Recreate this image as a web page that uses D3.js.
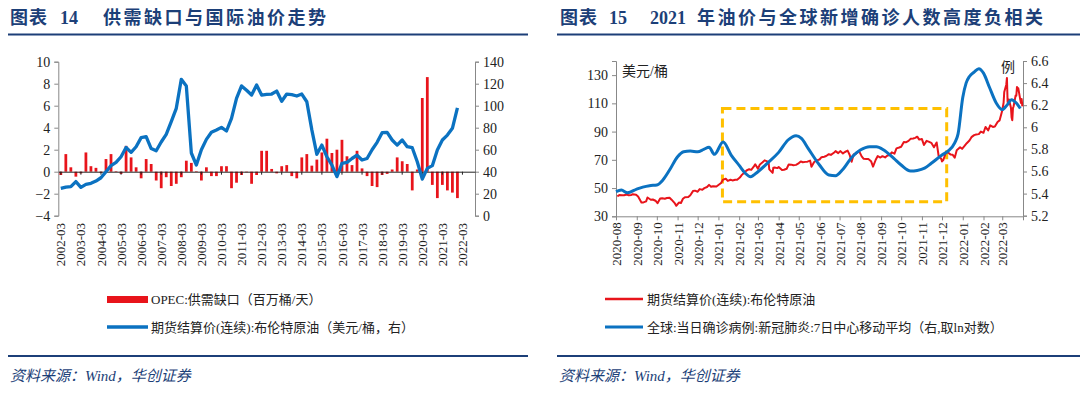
<!DOCTYPE html>
<html>
<head>
<meta charset="utf-8">
<script src="https://cdn.jsdelivr.net/npm/d3@7"></script>
<style>
  body { margin: 0; background: #fff; }
  svg text { font-family: "Liberation Serif", "Noto Sans CJK SC", serif; fill: #222; }
</style>
</head>
<body>
<svg id="chart" width="1080" height="394"></svg>
<script>
// ---------- 图表14 data (quarterly) ----------
const quarters = [];
for (let y = 2002; y <= 2022; y++) ["03", "06", "09", "12"].forEach(m => quarters.push(y + "-" + m));
quarters.splice(83); // axis runs to 2022-09

const yearLabels = ["2002-03","2003-03","2004-03","2005-03","2006-03","2007-03","2008-03",
  "2009-03","2010-03","2011-03","2012-03","2013-03","2014-03","2015-03","2016-03","2017-03",
  "2018-03","2019-03","2020-03","2021-03","2022-03"];

// OPEC supply gap, million bbl/day
const opecGap = [-0.3,1.6,0.4,-0.45,-0.15,1.75,0.5,0.35,-0.1,1.15,1.6,0.05,-0.2,2.35,1.3,0.4,
  -0.6,1.15,0.7,-0.8,-1.5,-0.5,-1.3,-1.1,-0.5,1.0,0.8,0.05,-0.8,0.4,-0.4,-0.4,0.5,0.5,-1.5,-1.0,
  -0.3,-0.05,-1.1,-0.3,1.9,1.9,0.25,-0.15,0.5,0.6,-0.4,-0.6,1.3,1.6,0.55,1.1,1.75,3.0,1.7,2.0,
  2.9,1.4,0.6,1.9,0.3,-0.4,-1.3,-1.4,-0.3,-0.2,0.2,1.3,0.95,0.7,-1.7,0.2,6.7,8.6,-1.2,-2.4,
  -1.2,-1.7,-1.9,-2.4];

// Brent settlement, USD/bbl (right axis)
const brentQ = [24.8,26,26.4,31,25.8,28.5,29.4,31.5,34.5,40,45.5,48.5,53.6,62,57.6,62.7,71,71.8,
  61,59,67,74,85.5,97.6,124,118,57,46,60,69.4,75.8,77.9,80.3,77,88.5,106.7,118,114,109.7,118.8,
  109.7,110.3,110.6,113.3,104,110.6,110,108.8,110.6,103.6,78,55.8,64.2,53.6,46,35.5,47.6,48.5,
  52,55,50.6,52,60,66.7,75.5,75.8,68.8,64.2,68.8,62.7,61.8,49,33.3,43,45.5,59.7,68.8,73.3,79.4,98];

// ---------- 图表15 data (daily / sampled) ----------
const monthLabels = ["2020-08","2020-09","2020-10","2020-11","2020-12","2021-01","2021-02",
  "2021-03","2021-04","2021-05","2021-06","2021-07","2021-08","2021-09","2021-10","2021-11",
  "2021-12","2022-01","2022-02","2022-03"];

const brentDaily = [
  ["2020-08-03",44.15],["2020-08-06",45.09],["2020-08-10",44.99],["2020-08-13",44.96],["2020-08-17",45.37],
  ["2020-08-20",44.9],["2020-08-24",45.13],["2020-08-26",45.64],["2020-08-31",45.28],["2020-09-03",44.07],
  ["2020-09-08",39.78],["2020-09-11",39.83],["2020-09-15",40.53],["2020-09-17",43.3],["2020-09-22",41.72],
  ["2020-09-25",41.92],["2020-09-29",41.03],["2020-10-02",39.27],["2020-10-06",42.65],["2020-10-09",42.85],
  ["2020-10-13",42.45],["2020-10-16",42.93],["2020-10-20",43.16],["2020-10-23",41.77],["2020-10-28",39.12],
  ["2020-10-30",37.46],["2020-11-03",39.71],["2020-11-06",39.45],["2020-11-09",42.4],["2020-11-12",43.53],
  ["2020-11-17",43.75],["2020-11-20",44.96],["2020-11-24",47.86],["2020-11-27",48.18],["2020-12-01",47.42],
  ["2020-12-04",49.25],["2020-12-08",48.84],["2020-12-11",49.97],["2020-12-15",50.76],["2020-12-18",52.26],
  ["2020-12-21",50.91],["2020-12-24",51.29],["2020-12-29",51.09],["2020-12-31",51.8],["2021-01-05",53.6],
  ["2021-01-08",55.99],["2021-01-12",56.58],["2021-01-15",55.1],["2021-01-19",55.9],["2021-01-22",55.41],
  ["2021-01-26",55.91],["2021-01-29",55.88],["2021-02-02",57.46],["2021-02-05",59.34],["2021-02-09",61.09],
  ["2021-02-12",62.43],["2021-02-16",63.35],["2021-02-19",62.91],["2021-02-23",65.37],["2021-02-25",66.88],
  ["2021-03-01",63.69],["2021-03-04",66.74],["2021-03-08",68.24],["2021-03-11",69.63],["2021-03-15",68.88],
  ["2021-03-17",68.0],["2021-03-18",63.28],["2021-03-23",60.79],["2021-03-24",64.41],["2021-03-26",64.57],
  ["2021-03-30",64.14],["2021-04-01",64.86],["2021-04-06",62.74],["2021-04-09",62.95],["2021-04-13",63.67],
  ["2021-04-16",66.77],["2021-04-20",66.57],["2021-04-23",66.11],["2021-04-27",66.42],["2021-04-30",67.25],
  ["2021-05-04",68.88],["2021-05-07",68.28],["2021-05-11",68.55],["2021-05-14",68.71],["2021-05-18",69.46],
  ["2021-05-20",65.11],["2021-05-24",68.46],["2021-05-28",69.63],["2021-06-01",70.25],["2021-06-04",71.89],
  ["2021-06-08",72.22],["2021-06-11",72.69],["2021-06-15",73.99],["2021-06-18",73.51],["2021-06-23",75.19],
  ["2021-06-25",76.18],["2021-06-29",74.76],["2021-07-02",76.17],["2021-07-06",74.53],["2021-07-09",75.55],
  ["2021-07-13",76.49],["2021-07-16",73.59],["2021-07-19",68.62],["2021-07-22",73.79],["2021-07-26",74.5],
  ["2021-07-30",76.33],["2021-08-03",72.41],["2021-08-06",70.7],["2021-08-10",70.63],["2021-08-13",70.59],
  ["2021-08-17",69.03],["2021-08-20",65.18],["2021-08-24",70.05],["2021-08-27",72.7],["2021-08-31",71.63],
  ["2021-09-03",72.61],["2021-09-07",71.69],["2021-09-10",72.92],["2021-09-14",73.6],["2021-09-17",75.34],
  ["2021-09-21",74.36],["2021-09-24",78.09],["2021-09-28",78.72],["2021-10-01",79.28],["2021-10-05",82.56],
  ["2021-10-08",82.39],["2021-10-12",83.42],["2021-10-15",84.86],["2021-10-19",85.08],["2021-10-22",85.53],
  ["2021-10-25",86.4],["2021-10-28",84.32],["2021-11-01",84.71],["2021-11-04",80.54],["2021-11-08",83.43],
  ["2021-11-11",82.87],["2021-11-15",82.05],["2021-11-19",78.89],["2021-11-23",82.31],["2021-11-26",72.72],
  ["2021-11-30",70.57],["2021-12-01",68.87],["2021-12-03",69.88],["2021-12-07",75.44],["2021-12-10",75.15],
  ["2021-12-14",73.7],["2021-12-17",73.52],["2021-12-20",71.52],["2021-12-23",76.85],["2021-12-28",78.94],
  ["2021-12-31",77.78],["2022-01-04",80.0],["2022-01-07",81.75],["2022-01-11",83.72],["2022-01-14",86.06],
  ["2022-01-18",87.51],["2022-01-21",87.89],["2022-01-25",88.2],["2022-01-28",90.03],["2022-02-01",89.16],
  ["2022-02-04",93.27],["2022-02-08",90.78],["2022-02-11",94.44],["2022-02-15",93.28],["2022-02-18",93.54],
  ["2022-02-22",96.84],["2022-02-25",97.93],["2022-03-01",104.97],["2022-03-03",110.46],["2022-03-04",118.11],
  ["2022-03-07",123.21],["2022-03-08",127.98],["2022-03-09",111.14],["2022-03-10",109.33],["2022-03-11",112.67],
  ["2022-03-14",106.9],["2022-03-15",99.91],["2022-03-16",98.02],["2022-03-17",106.64],["2022-03-18",107.93],
  ["2022-03-21",115.62],["2022-03-22",115.48],["2022-03-23",121.6],["2022-03-24",119.03],["2022-03-25",120.65],
  ["2022-03-28",112.48],["2022-03-29",110.23],["2022-03-30",113.03],["2022-03-31",107.91]
];

// global new cases, 7-day centred MA, log scale (right axis)
const casesLog = [
  ["2020-08-01",5.417],["2020-08-09",5.432],["2020-08-18",5.408],["2020-09-01",5.441],["2020-09-10",5.459],
  ["2020-09-20",5.472],["2020-10-01",5.478],["2020-10-10",5.523],["2020-10-20",5.613],["2020-11-01",5.734],
  ["2020-11-10",5.779],["2020-11-20",5.785],["2020-12-01",5.779],["2020-12-10",5.8],["2020-12-18",5.82],
  ["2020-12-26",5.755],["2021-01-08",5.866],["2021-01-20",5.749],["2021-02-01",5.655],["2021-02-10",5.585],
  ["2021-02-18",5.553],["2021-03-01",5.598],["2021-03-15",5.674],["2021-04-01",5.773],["2021-04-15",5.885],
  ["2021-04-27",5.924],["2021-05-05",5.9],["2021-05-15",5.81],["2021-06-01",5.659],["2021-06-15",5.568],
  ["2021-06-25",5.562],["2021-07-05",5.613],["2021-07-20",5.734],["2021-08-01",5.794],["2021-08-15",5.825],
  ["2021-08-25",5.825],["2021-09-05",5.794],["2021-09-20",5.719],["2021-10-01",5.659],["2021-10-15",5.605],
  ["2021-10-25",5.61],["2021-11-05",5.63],["2021-11-15",5.674],["2021-12-01",5.749],["2021-12-10",5.785],
  ["2021-12-20",5.86],["2021-12-25",5.94],["2022-01-01",6.27],["2022-01-06",6.4],["2022-01-11",6.46],
  ["2022-01-18",6.5],["2022-01-25",6.53],["2022-02-01",6.49],["2022-02-10",6.36],["2022-02-20",6.22],
  ["2022-03-01",6.16],["2022-03-08",6.2],["2022-03-15",6.25],["2022-03-22",6.22],["2022-03-28",6.17]
];

// highlighted window (dates, left-axis values)
const boxDates = ["2021-01-07", "2021-12-08"];
const boxValues = [40.3, 106.3];

const red = "#E8141B", blue = "#0B72C1", navy = "#1C3F78";
const svg = d3.select("#chart");
const parse = d3.timeParse("%Y-%m-%d");

/* titles, rules, source */
function header(x0, x1, pieces) {
  pieces.forEach(p => svg.append("text")
    .attr("x", p[0]).attr("y", 24)
    .attr("font-size", "18px").attr("font-weight", "bold")
    .attr("letter-spacing", p[2] || 0)
    .style("fill", navy).text(p[1]));
  svg.append("line").attr("x1", x0).attr("x2", x1).attr("y1", 34.5).attr("y2", 34.5)
    .attr("stroke", navy).attr("stroke-width", 2);
  svg.append("line").attr("x1", x0).attr("x2", x1).attr("y1", 356).attr("y2", 356)
    .attr("stroke", navy).attr("stroke-width", 2);
  svg.append("text").attr("x", x0 + 2).attr("y", 381)
    .attr("font-size", "15px").attr("font-style", "italic")
    .style("fill", navy).text("资料来源：Wind，华创证券");
}
header(8, 528, [[10, "图表", 1], [60, "14"], [103, "供需缺口与国际油价走势", 2.5]]);
header(557, 1080, [[560, "图表", 1], [609, "15"], [650, "2021"], [697, "年油价与全球新增确诊人数高度负相关", 2.5]]);

/* ================= 图表14 ================= */
const x1 = d3.scaleBand().domain(quarters).range([58.3, 475]).paddingInner(0.45).paddingOuter(0.225);
const yL1 = d3.scaleLinear().domain([-4, 10]).range([215.7, 61.7]);
const yR1 = d3.scaleLinear().domain([0, 140]).range([215.7, 61.7]);
const cx1 = q => x1(q) + x1.bandwidth() / 2;

svg.append("g").attr("transform", "translate(58.3,0)")
  .call(d3.axisLeft(yL1).tickValues(d3.range(-4, 11, 2)).tickSizeOuter(0).tickSize(4).tickPadding(4))
  .call(g => g.selectAll("text").attr("font-size", "14px"))
  .call(g => g.selectAll("line,path").attr("stroke", "#888"));

svg.append("g").attr("transform", "translate(475,0)")
  .call(d3.axisRight(yR1).tickValues(d3.range(0, 141, 20)).tickSizeOuter(0).tickSize(4).tickPadding(4))
  .call(g => g.selectAll("text").attr("font-size", "14px"))
  .call(g => g.selectAll("line,path").attr("stroke", "#888"));

svg.selectAll(".gap").data(opecGap).enter().append("rect")
  .attr("class", "gap")
  .attr("x", (d, i) => x1(quarters[i]))
  .attr("width", x1.bandwidth())
  .attr("y", d => yL1(Math.max(0, d)))
  .attr("height", d => Math.abs(yL1(d) - yL1(0)))
  .attr("fill", red);

// zero line with year ticks
svg.append("g").attr("transform", `translate(0,${yL1(0)})`)
  .call(d3.axisBottom(x1).tickValues(yearLabels).tickSize(3).tickSizeOuter(0).tickFormat(""))
  .call(g => g.selectAll("line,path").attr("stroke", "#222"));

// category labels at the bottom
svg.append("g").attr("transform", "translate(0,216)")
  .call(d3.axisBottom(x1).tickValues(yearLabels).tickSize(0))
  .call(g => g.select(".domain").remove())
  .call(g => g.selectAll("text")
    .attr("transform", "rotate(-90)").attr("text-anchor", "end")
    .attr("x", -7).attr("y", 0).attr("dy", "0.35em").attr("font-size", "13px"));

svg.append("path").datum(brentQ)
  .attr("fill", "none").attr("stroke", blue).attr("stroke-width", 3.3)
  .attr("stroke-linejoin", "round")
  .attr("d", d3.line().x((d, i) => cx1(quarters[i])).y(d => yR1(d)));

// legend
svg.append("rect").attr("x", 107).attr("y", 296).attr("width", 41).attr("height", 7).attr("fill", red);
svg.append("text").attr("x", 151).attr("y", 299.5).attr("dy", "0.35em").attr("font-size", "13px")
  .text("OPEC:供需缺口（百万桶/天）");
svg.append("line").attr("x1", 107).attr("x2", 148).attr("y1", 327).attr("y2", 327)
  .attr("stroke", blue).attr("stroke-width", 3.3);
svg.append("text").attr("x", 151).attr("y", 327).attr("dy", "0.35em").attr("font-size", "13px")
  .text("期货结算价(连续):布伦特原油（美元/桶，右）");

/* ================= 图表15 ================= */
const x2 = d3.scaleTime().domain([parse("2020-08-01"), parse("2022-04-01")]).range([616, 1023]);
const yL2 = d3.scaleLinear().domain([30, 140]).range([216.3, 61]);
const yR2 = d3.scaleLinear().domain([5.2, 6.6]).range([215.7, 61]);

svg.append("g").attr("transform", "translate(616,0)")
  .call(d3.axisLeft(yL2).tickValues(d3.range(30, 131, 20)).tickSizeOuter(0).tickSize(4).tickPadding(4))
  .call(g => g.selectAll("text").attr("font-size", "14px"))
  .call(g => g.selectAll("line,path").attr("stroke", "#888"));

svg.append("g").attr("transform", "translate(1023,0)")
  .call(d3.axisRight(yR2).tickValues(d3.range(0, 8).map(i => 5.2 + i * 0.2))
    .tickFormat(d => d3.format(".1f")(d).replace(".0", "")).tickSizeOuter(0).tickSize(4).tickPadding(4))
  .call(g => g.selectAll("text").attr("font-size", "14px"))
  .call(g => g.selectAll("line,path").attr("stroke", "#888"));

const monthDates = monthLabels.map(m => parse(m + "-01"));
svg.append("g").attr("transform", "translate(0,216.3)")
  .call(d3.axisBottom(x2).tickValues(monthDates.concat([parse("2022-04-01")])).tickSize(4)
    .tickSizeOuter(0).tickFormat(d3.timeFormat("%Y-%m")))
  .call(g => g.selectAll("line,path").attr("stroke", "#888"))
  .call(g => g.selectAll(".tick").filter((d, i) => i === monthDates.length).select("text").remove())
  .call(g => g.selectAll("text")
    .attr("transform", "rotate(-90)").attr("text-anchor", "end")
    .attr("x", -6).attr("y", 0).attr("dy", "0.35em").attr("font-size", "13px"));

// highlighted window
svg.append("rect")
  .attr("x", x2(parse(boxDates[0]))).attr("width", x2(parse(boxDates[1])) - x2(parse(boxDates[0])))
  .attr("y", yL2(boxValues[1])).attr("height", yL2(boxValues[0]) - yL2(boxValues[1]))
  .attr("fill", "none").attr("stroke", "#FFC000").attr("stroke-width", 3)
  .attr("stroke-dasharray", "9,5");

svg.append("path").datum(brentDaily)
  .attr("fill", "none").attr("stroke", red).attr("stroke-width", 2)
  .attr("stroke-linejoin", "round")
  .attr("d", d3.line().x(d => x2(parse(d[0]))).y(d => yL2(d[1])));

svg.append("path").datum(casesLog)
  .attr("fill", "none").attr("stroke", blue).attr("stroke-width", 3)
  .attr("d", d3.line().curve(d3.curveMonotoneX).x(d => x2(parse(d[0]))).y(d => yR2(d[1])));

svg.append("text").attr("x", 622).attr("y", 76).attr("font-size", "14px").text("美元/桶");
svg.append("text").attr("x", 1001).attr("y", 72).attr("font-size", "14px").text("例");

// legend
svg.append("line").attr("x1", 605).attr("x2", 643).attr("y1", 299).attr("y2", 299)
  .attr("stroke", red).attr("stroke-width", 2.5);
svg.append("text").attr("x", 647).attr("y", 299).attr("dy", "0.35em").attr("font-size", "13px")
  .text("期货结算价(连续):布伦特原油");
svg.append("line").attr("x1", 605).attr("x2", 643).attr("y1", 327).attr("y2", 327)
  .attr("stroke", blue).attr("stroke-width", 3);
svg.append("text").attr("x", 647).attr("y", 327).attr("dy", "0.35em").attr("font-size", "13px")
  .text("全球:当日确诊病例:新冠肺炎:7日中心移动平均（右,取ln对数）");
</script>
</body>
</html>
